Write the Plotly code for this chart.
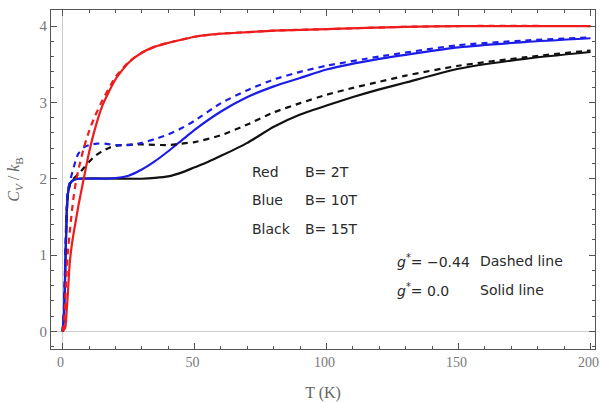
import plotly.graph_objects as go

# ---- data ----
T_red_solid = [0, 1, 1.5, 2, 2.5, 3, 4, 5, 6, 8, 10, 12, 15, 20, 25, 30, 35, 40, 45, 50, 60, 70, 80, 100, 130, 150, 200]
Cv_red_solid = [0, 0.05, 0.25, 0.5, 0.8, 1.0, 1.25, 1.45, 1.65, 2.0, 2.34, 2.62, 2.95, 3.3, 3.52, 3.65, 3.73, 3.78, 3.82, 3.86, 3.9, 3.92, 3.94, 3.96, 3.99, 4.0, 4.0]

T_red_dash = [0, 0.5, 1, 1.5, 2, 3, 4, 5, 6, 8, 10, 12, 15, 20, 25, 30, 35, 40, 45, 50, 60, 70, 80, 100, 130, 150, 200]
Cv_red_dash = [0, 0.1, 0.4, 0.75, 1.05, 1.4, 1.72, 1.95, 2.12, 2.4, 2.62, 2.8, 3.02, 3.33, 3.53, 3.65, 3.73, 3.78, 3.82, 3.86, 3.9, 3.92, 3.94, 3.96, 3.99, 4.0, 4.0]

T_blue_solid = [0, 0.5, 1, 1.5, 2, 2.5, 3, 4, 6, 15, 20, 25, 30, 35, 40, 45, 50, 60, 70, 80, 90, 100, 120, 150, 175, 200]
Cv_blue_solid = [0, 0.2, 0.8, 1.5, 1.8, 1.9, 1.95, 1.98, 2.0, 2.0, 2.01, 2.04, 2.12, 2.23, 2.36, 2.5, 2.64, 2.88, 3.07, 3.21, 3.32, 3.43, 3.57, 3.72, 3.79, 3.84]

T_blue_dash = [0, 0.5, 1, 1.5, 2, 3, 4, 5, 6, 8, 10, 13, 16, 20, 25, 30, 35, 40, 45, 50, 60, 70, 80, 90, 100, 120, 150, 175, 200]
Cv_blue_dash = [0, 0.3, 1.0, 1.6, 1.85, 2.0, 2.12, 2.25, 2.33, 2.41, 2.44, 2.46, 2.46, 2.44, 2.44, 2.47, 2.52, 2.58, 2.66, 2.76, 2.99, 3.16, 3.3, 3.4, 3.48, 3.6, 3.75, 3.81, 3.85]

T_black_solid = [0, 0.5, 1, 1.5, 2, 2.5, 3, 4, 6, 30, 35, 40, 45, 50, 55, 60, 70, 80, 90, 100, 110, 120, 130, 150, 175, 200]
Cv_black_solid = [0, 0.2, 0.8, 1.5, 1.8, 1.9, 1.95, 1.98, 2.0, 2.0, 2.01, 2.03, 2.08, 2.15, 2.22, 2.3, 2.47, 2.68, 2.84, 2.96, 3.07, 3.17, 3.26, 3.44, 3.57, 3.66]

T_black_dash = [0, 0.5, 1, 1.5, 2, 3, 4, 6, 8, 10, 12, 15, 18, 22, 30, 40, 45, 50, 60, 70, 80, 90, 100, 110, 120, 130, 150, 175, 200]
Cv_black_dash = [0, 0.2, 0.8, 1.5, 1.8, 1.95, 2.0, 2.06, 2.14, 2.22, 2.29, 2.36, 2.41, 2.44, 2.45, 2.44, 2.46, 2.48, 2.57, 2.71, 2.87, 2.99, 3.1, 3.19, 3.27, 3.35, 3.48, 3.59, 3.68]

x_ticks = [0, 50, 100, 150, 200]
y_ticks = [0, 1, 2, 3, 4]

RED = "#ee1c1c"
BLUE = "#1c1ce8"
BLACK = "#111111"

fig = go.Figure()

series = [
    (T_black_solid, Cv_black_solid, BLACK, "solid"),
    (T_blue_solid, Cv_blue_solid, BLUE, "solid"),
    (T_red_solid, Cv_red_solid, RED, "solid"),
    (T_black_dash, Cv_black_dash, BLACK, "dash"),
    (T_blue_dash, Cv_blue_dash, BLUE, "dash"),
    (T_red_dash, Cv_red_dash, RED, "dash"),
]
for xs, ys, c, d in series:
    fig.add_trace(go.Scatter(
        x=xs, y=ys, mode="lines",
        line=dict(color=c, width=2.2, dash="6px,5px" if d == "dash" else "solid", shape="spline", smoothing=0.6),
        showlegend=False, hoverinfo="skip"))

axis_common = dict(
    showline=True, linecolor="#555555", linewidth=1, mirror="allticks",
    ticks="inside", ticklen=6, tickcolor="#555555", tickwidth=1,
    showgrid=False, zeroline=True, zerolinecolor="#cccccc", zerolinewidth=1,
    automargin=False, ticklabeloverflow="allow",
)

fig.update_xaxes(
    range=[-4.4, 201.7], tickvals=x_ticks, ticktext=[str(v) for v in x_ticks],
    tickfont=dict(family="Liberation Serif", size=14, color="#777777"),
    ticklabelshift=-2,
    minor=dict(dtick=10, ticklen=3, ticks="inside", tickcolor="#555555"),
    title=dict(text="T (K)", font=dict(family="Liberation Serif", size=16, color="#666666"), standoff=22),
    **axis_common)
fig.update_yaxes(
    range=[-0.23, 4.21], tickvals=y_ticks, ticktext=[str(v) for v in y_ticks],
    tickfont=dict(family="Liberation Serif", size=15, color="#777777"),
    minor=dict(dtick=0.2, ticklen=3, ticks="inside", tickcolor="#555555"),
    title=dict(text="<i>C</i><sub><i>V</i></sub> / <i>k</i><sub>B</sub>",
               font=dict(family="Liberation Serif", size=16, color="#666666")),
    **axis_common)

def px2paper(px, py):
    return (px - 51) / 544.0, (349 - py) / 339.0

ann_font = dict(family="DejaVu Sans", size=14, color="#2a2a2a")
labels = [
    (250, 172, "Red"), (303, 172, "B= 2T"),
    (250, 200, "Blue"), (303, 200, "B= 10T"),
    (250, 229, "Black"), (303, 229, "B= 15T"),
    (395, 261, "<i>g</i><sup>*</sup>= \u22120.44"), (478, 261, "Dashed line"),
    (395, 290, "<i>g</i><sup>*</sup>= 0.0"), (478, 290, "Solid line"),
]
for px, py, t in labels:
    x, y = px2paper(px, py)
    fig.add_annotation(x=x, y=y, xref="paper", yref="paper", text=t, showarrow=False,
                       xanchor="left", yanchor="middle", font=ann_font)

fig.update_layout(
    width=600, height=402,
    margin=dict(l=51, r=5, t=10, b=53),
    paper_bgcolor="white", plot_bgcolor="white",
)

fig.write_html("out.html", config={"displayModeBar": False},
               post_script="document.body.style.margin='0';document.body.style.overflow='hidden';")
